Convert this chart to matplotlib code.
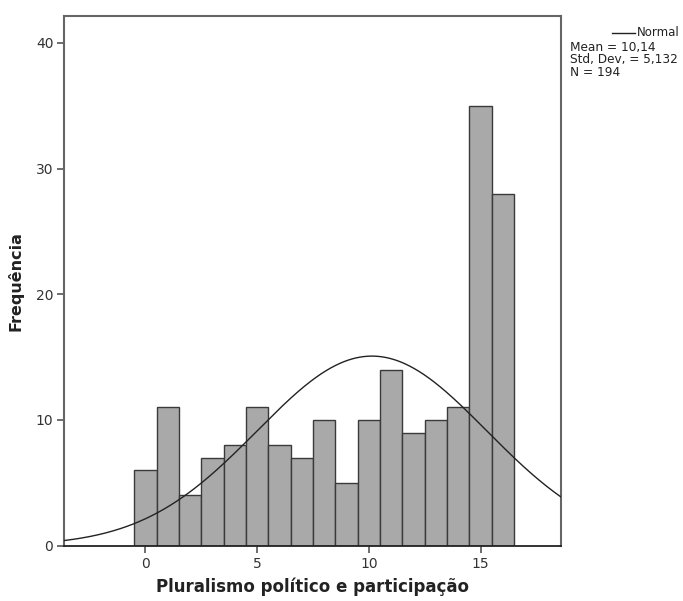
import numpy as np
import matplotlib
matplotlib.use("Agg")
import matplotlib.pyplot as plt

# frequency per score value (0..16)
scores = list(range(0, 17))
counts = [6, 11, 4, 7, 8, 11, 8, 7, 10, 5, 10, 14, 9, 10, 11, 35, 28]
mean = 10.14
std_dev = 5.132
n_total = 194

fig = plt.figure(figsize=(6.83, 6.01), dpi=100)
ax = fig.add_axes([0.0944, 0.092, 0.727, 0.882])

ax.bar(scores, counts, width=1.0, color="#a9a9a9", edgecolor="#3a3a3a",
       linewidth=1.0, zorder=2)

xmin, xmax = -3.62, 18.6
xs = np.linspace(xmin, xmax, 400)
pdf = np.exp(-0.5 * ((xs - mean) / std_dev) ** 2) / (std_dev * np.sqrt(2 * np.pi))
ax.plot(xs, n_total * pdf, color="#222222", linewidth=1.0, zorder=3)

ax.set_xlim(xmin, xmax)
ax.set_ylim(0, 42.16)
ax.set_xticks([0, 5, 10, 15])
ax.set_yticks([0, 10, 20, 30, 40])
ax.tick_params(direction="out", length=5, width=1.2, color="#555555",
               labelsize=10, labelcolor="#333333", pad=3)
for s in ax.spines.values():
    s.set_color("#666666")
    s.set_linewidth(1.5)
ax.spines["bottom"].set_color("#222222")
ax.spines["bottom"].set_linewidth(1.3)

ax.set_xlabel("Pluralismo político e participação", fontsize=12,
              fontweight="bold", labelpad=5, color="#222222")
ax.set_ylabel("Frequência", fontsize=11.5, fontweight="bold",
              labelpad=9, color="#222222")

# legend-like annotation on the right
def fy(py):
    return 1 - py / 601

fig.add_artist(plt.Line2D([612 / 683, 635 / 683], [fy(33), fy(33)],
                          color="#222222", linewidth=1.0))
fig.text(637 / 683, fy(33), "Normal", fontsize=8.5, va="center", ha="left",
         color="#222222")
stat_lines = [
    f"Mean = {mean:.2f}".replace(".", ","),
    f"Std. Dev. = {std_dev:.3f}".replace(".", ","),
    f"N = {n_total}",
]
for i, line in enumerate(stat_lines):
    fig.text(570 / 683, fy(47 + 13 * i), line, fontsize=8.7, va="center",
             ha="left", color="#222222")

fig.savefig("out.png", dpi=100)
